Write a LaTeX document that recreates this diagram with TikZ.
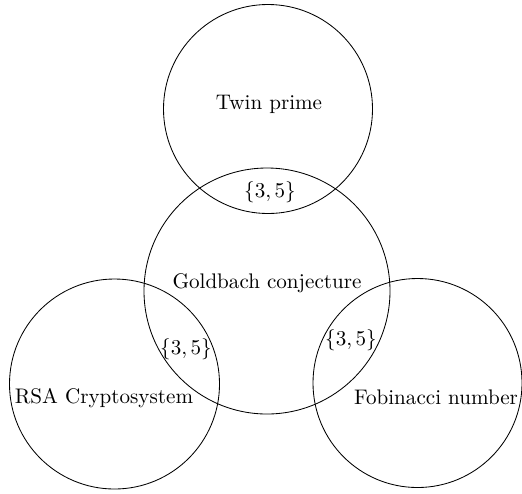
\documentclass[tikz,border=0pt]{standalone}
\begin{document}
\begin{tikzpicture}[x=0.474pt,y=-0.474pt,
  setcircle/.style={draw,circle,inner sep=0pt,outer sep=0pt,minimum size=#1*0.948pt},
  lbl/.style={inner sep=0pt}]
\useasboundingbox (0,0) rectangle (522,493);
\node[setcircle=104.5] (twin) at (268,109) {};
\node[setcircle=123] (gold) at (267,291) {};
\node[setcircle=105] (rsa) at (114.5,384) {};
\node[setcircle=104.5] (fib) at (417.5,383) {};
\node[lbl] (twintext) at (269,104) {Twin prime};
\node[lbl] (goldtext) at (267,283) {Goldbach conjecture};
\node[lbl] (rsatext) at (104,398) {RSA Cryptosystem};
\node[lbl] (fibtext) at (436,397) {Fobinacci number};
\node[lbl] (tg) at (270,192) {$\{3,5\}$};
\node[lbl] (rg) at (186,349) {$\{3,5\}$};
\node[lbl] (fg) at (351,340) {$\{3,5\}$};
\end{tikzpicture}
\end{document}
